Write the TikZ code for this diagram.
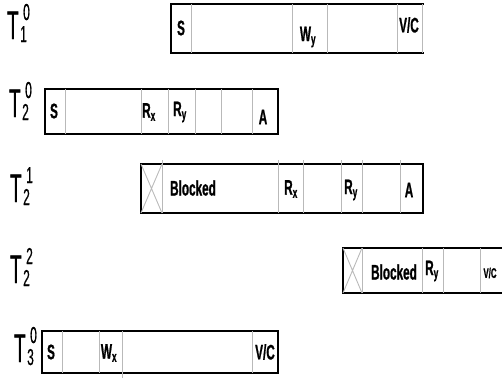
\documentclass[tikz,border=0pt]{standalone}
\usepackage{fontspec}
\usetikzlibrary{positioning}
\newfontfamily\narrowsans[FakeStretch=0.56, FakeBold=0.8]{Liberation Sans}
\newfontfamily\thinsans[FakeStretch=0.47, FakeBold=0.8]{Liberation Sans}
\newfontfamily\idxsans[FakeStretch=0.52, FakeBold=0.5]{Liberation Sans}
% thread name: T with subscript #1 and superscript #2
\newcommand{\tname}[2]{{\thinsans\fontsize{40}{40}\selectfont T}\kern1.5pt\rlap{\kern3pt\raisebox{19pt}{\idxsans\fontsize{23}{23}\selectfont #2}}\raisebox{-3pt}{\idxsans\fontsize{23}{23}\selectfont #1}}

\begin{document}
\begin{tikzpicture}[x=1pt, y=-1pt,
    edge/.style={line width=2.6pt},
    lead/.style={line width=1.5pt},
    tail/.style={line width=1.2pt},
    sep/.style={gray!55, line width=0.9pt},
    lbl/.style={inner sep=0pt, font=\narrowsans\bfseries\fontsize{21}{21}\selectfont},
    small/.style={inner sep=0pt, font=\narrowsans\bfseries\fontsize{14}{14}\selectfont},
    tlab/.style={inner sep=0pt, anchor=base west}]
\useasboundingbox (0,0) rectangle (502,383);

% T_1^0
\draw[edge] (170,4) -- (424,4) (170,53) -- (424,53);
\draw[lead] (171,4) -- (171,53);
\foreach \x in {191,292,327,397,422}
    \draw[sep] (\x,4) -- (\x,53);
\node[tlab] (t10) at (7,39) {\tname{1}{0}};
\node[lbl] (s1) at (181,28) {S};
\node[lbl] (wy1) at (308,37) {W\textsubscript{y}};
\node[lbl] (vc1) at (409,25) {V/C};

% T_2^0
\draw[edge] (44,89) -- (279,89) (44,134) -- (279,134);
\draw[lead] (45,89) -- (45,134);
\foreach \x in {65,141,168,195,221,252}
    \draw[sep] (\x,89) -- (\x,134);
\draw[tail] (278,89) -- (278,134);
\node[tlab] (t20) at (9,117) {\tname{2}{0}};
\node[lbl] (s2) at (54,111) {S};
\node[lbl] (rx2) at (149,112) {R\textsubscript{x}};
\node[lbl] (ry2) at (180,112) {R\textsubscript{y}};
\node[lbl] (a2) at (263,117) {A};

% T_2^1
\draw[edge] (140,164) -- (424,164) (140,213) -- (424,213);
\draw[lead] (141,164) -- (141,213);
\draw[sep] (141,164) -- (162,213) (162,164) -- (141,213);
\foreach \x in {162,278,303,341,362,400}
    \draw[sep] (\x,160) -- (\x,213);
\draw[tail] (423,164) -- (423,213);
\node[tlab] (t21) at (10,202) {\tname{2}{1}};
\node[lbl] (bl3) at (193,188) {Blocked};
\node[lbl] (rx3) at (291,189) {R\textsubscript{x}};
\node[lbl] (ry3) at (351,190) {R\textsubscript{y}};
\node[lbl] (a3) at (409,190) {A};

% T_2^2
\draw[edge] (342,248) -- (502,248) (342,293) -- (502,293);
\draw[lead] (343,248) -- (343,293);
\draw[sep] (343,248) -- (362,293) (362,248) -- (343,293);
\foreach \x in {362,422,443,480}
    \draw[sep] (\x,248) -- (\x,293);
\node[tlab] (t22) at (10,283) {\tname{2}{2}};
\node[lbl] (bl4) at (394,272) {Blocked};
\node[lbl] (ry4) at (432,271) {R\textsubscript{y}};
\node[small] (vc4) at (490,273) {V/C};

% T_3^0
\draw[edge] (41,331) -- (279,331) (41,373) -- (279,373);
\draw[lead] (42,331) -- (42,373);
\foreach \x in {62,99,252}
    \draw[sep] (\x,331) -- (\x,373);
\draw[sep] (122,331) -- (122,378);
\draw[tail] (278,331) -- (278,373);
\node[tlab] (t30) at (14,362) {\tname{3}{0}};
\node[lbl] (s5) at (51,352) {S};
\node[lbl] (wx5) at (109,353) {W\textsubscript{x}};
\node[lbl] (vc5) at (265,352) {V/C};
\end{tikzpicture}
\end{document}
